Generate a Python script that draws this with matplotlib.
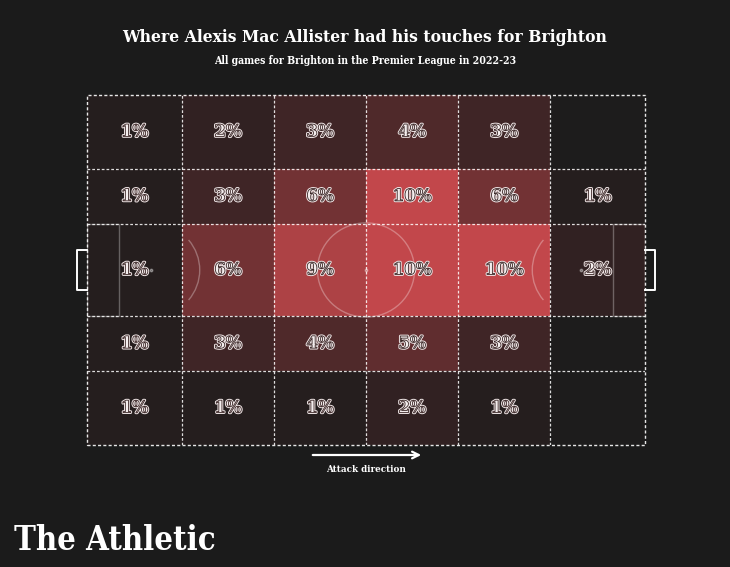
import matplotlib
matplotlib.use("Agg")
import matplotlib.pyplot as plt
import numpy as np
from matplotlib.colors import LinearSegmentedColormap, PowerNorm
from matplotlib.patches import Rectangle, Ellipse, Arc
import matplotlib.patheffects as pe

# ---- data ----
title = "Where Alexis Mac Allister had his touches for Brighton"
subtitle = "All games for Brighton in the Premier League in 2022-23"
x_edges = [0, 17, 33.5, 50, 66.5, 83, 100]          # Opta pitch zones (attack left -> right)
y_edges = [0, 21.1, 36.8, 63.2, 78.9, 100]          # bottom -> top
# percentages of touches, rows from top of pitch to bottom, 0 = no label
pct_rows = [
    [1, 2, 3, 4, 3, 0],
    [1, 3, 6, 10, 6, 1],
    [1, 6, 9, 10, 10, 2],
    [1, 3, 4, 5, 3, 0],
    [1, 1, 1, 2, 1, 0],
]

BG = "#1b1b1b"
SERIF = ["DejaVu Serif"]
fig = plt.figure(figsize=(7.3, 5.67), dpi=100, facecolor=BG)
ax = fig.add_axes([87/730, 1-445/567, 558/730, 350/567])
ax.set_facecolor(BG)
ax.set_xlim(0, 100)
ax.set_ylim(0, 100)
ax.axis("off")

cmap = LinearSegmentedColormap.from_list("heat", ["#1d1c1c", "#c2474b"])
vals = np.array(pct_rows[::-1], dtype=float)   # bottom row first
ax.pcolormesh(x_edges, y_edges, vals, cmap=cmap, norm=PowerNorm(1.3, vmin=0, vmax=10),
              shading="flat", zorder=1)

# pitch markings (faint)
mk = dict(color="white", alpha=0.3, lw=1.0, zorder=2, fill=False)
ax.add_patch(Rectangle((0, 36.8), 5.8, 26.4, **mk))
ax.add_patch(Rectangle((94.2, 36.8), 5.8, 26.4, **mk))
rx, ry = 8.7, 13.46
ax.add_patch(Ellipse((50, 50), 2*rx, 2*ry, **mk))
ax.add_patch(Arc((11.5, 50), 2*rx, 2*ry, theta1=-52, theta2=52, color="white", alpha=0.3, lw=1.0, zorder=2))
ax.add_patch(Arc((88.5, 50), 2*rx, 2*ry, theta1=128, theta2=232, color="white", alpha=0.3, lw=1.0, zorder=2))
ax.plot([11.5, 88.5, 50], [50, 50, 50], "o", ms=1.8, color="white", alpha=0.35, zorder=2)

# zone grid
dash = (0, (2.2, 1.6))
for x in x_edges[1:-1]:
    ax.plot([x, x], [0, 100], color="white", lw=0.9, ls=dash, alpha=0.85, zorder=3)
for y in y_edges[1:-1]:
    ax.plot([0, 100], [y, y], color="white", lw=0.9, ls=dash, alpha=0.85, zorder=3)
ax.add_patch(Rectangle((0, 0), 100, 100, fill=False, ec="white", lw=1.0, ls=dash,
                       alpha=0.9, zorder=3, clip_on=False))

# goals
ax.plot([0, -1.8, -1.8, 0], [44.2, 44.2, 55.8, 55.8], color="white", lw=1.4, clip_on=False, zorder=3)
ax.plot([100, 101.8, 101.8, 100], [44.2, 44.2, 55.8, 55.8], color="white", lw=1.4, clip_on=False, zorder=3)

# labels
for r, row in enumerate(pct_rows[::-1]):
    yc = (y_edges[r] + y_edges[r+1]) / 2
    for c, v in enumerate(row):
        if v <= 0:
            continue
        xc = (x_edges[c] + x_edges[c+1]) / 2
        ax.text(xc, yc, f"{v}%", ha="center", va="center", fontsize=12,
                family=SERIF, weight="bold", color="#f4eeee", zorder=5,
                path_effects=[pe.Stroke(linewidth=2.0, foreground="#efe6e6"), pe.Normal(),
                              pe.Stroke(linewidth=0.6, foreground="#3a2626")])

# titles
fig.text(0.5, 1-38/567, title, ha="center", va="center", color="white",
         fontsize=12.5, family=SERIF, weight="bold", stretch="condensed")
fig.text(0.5, 1-61/567, subtitle, ha="center", va="center", color="white",
         fontsize=7.6, family=SERIF, weight="bold", stretch="condensed")

# attack direction
ax.annotate("", xy=(424/730, 1-455/567), xytext=(310/730, 1-455/567), xycoords="figure fraction",
            arrowprops=dict(arrowstyle="->", color="white", lw=1.6, mutation_scale=12))
fig.text(366/730, 1-470/567, "Attack direction", ha="center", va="center", color="white",
         fontsize=7, family=SERIF, weight="bold", stretch="condensed")

fig.text(14/730, 1-541/567, "The Athletic", ha="left", va="center", color="white",
         fontsize=23.5, family=SERIF, weight="bold", stretch="condensed")

fig.savefig("out.png", dpi=100, facecolor=BG)
